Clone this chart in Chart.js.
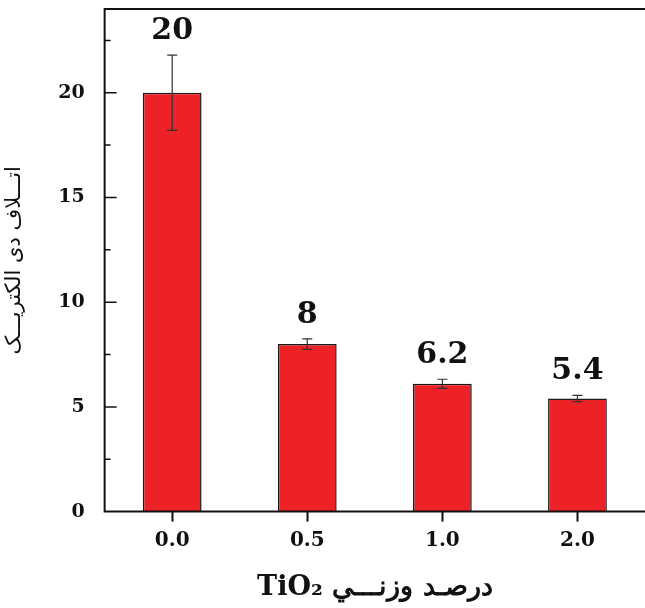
<!DOCTYPE html>
<html lang="fa">
<head>
    <meta charset="UTF-8">
    <title>Dielectric loss vs TiO2</title>
    <script src="https://cdn.jsdelivr.net/npm/chart.js"></script>
    <style>
        body {
            margin: 0;
            padding: 0;
            background-color: #fff;
        }
        .chart-box {
            width: 645px;
            height: 608px;
        }
    </style>
</head>
<body>
    <div class="chart-box">
        <canvas id="chart"></canvas>
    </div>

    <script>
        // data
        const categories = ['0.0', '0.5', '1.0', '2.0'];
        const lossValues = [20, 8, 6.1, 5.4];
        const lossErrors = [1.8, 0.25, 0.22, 0.15];
        const valueLabels = ['20', '8', '6.2', '5.4'];
        const yTicks = [0, 5, 10, 15, 20];

        const serif = "'DejaVu Serif', 'Liberation Serif', serif";

        // frame, inward ticks, error bars and value labels
        const extras = {
            id: 'extras',
            afterDatasetsDraw(chart) {
                const ctx = chart.ctx;
                const area = chart.chartArea;
                const y = chart.scales.y;
                const meta = chart.getDatasetMeta(0);
                ctx.save();

                // error bars
                ctx.strokeStyle = '#333';
                ctx.lineWidth = 1.2;
                meta.data.forEach((bar, i) => {
                    const top = y.getPixelForValue(lossValues[i] + lossErrors[i]);
                    const bot = y.getPixelForValue(lossValues[i] - lossErrors[i]);
                    ctx.beginPath();
                    ctx.moveTo(bar.x, top);
                    ctx.lineTo(bar.x, bot);
                    ctx.moveTo(bar.x - 5, top);
                    ctx.lineTo(bar.x + 5, top);
                    ctx.moveTo(bar.x - 5, bot);
                    ctx.lineTo(bar.x + 5, bot);
                    ctx.stroke();
                });

                // value labels
                ctx.fillStyle = '#111';
                ctx.font = 'bold 30px ' + serif;
                ctx.textAlign = 'center';
                ctx.textBaseline = 'alphabetic';
                meta.data.forEach((bar, i) => {
                    const top = y.getPixelForValue(lossValues[i] + lossErrors[i]);
                    ctx.fillText(valueLabels[i], bar.x, top - 16);
                });

                // axes frame (left, bottom, top)
                ctx.strokeStyle = '#111';
                ctx.lineWidth = 2;
                ctx.beginPath();
                ctx.moveTo(area.left, area.top);
                ctx.lineTo(area.left, area.bottom);
                ctx.moveTo(area.left - 1, area.bottom);
                ctx.lineTo(area.right, area.bottom);
                ctx.moveTo(area.left - 1, area.top);
                ctx.lineTo(area.right, area.top);
                ctx.stroke();

                // inward y ticks, major every 5 and minor every 2.5
                ctx.lineWidth = 1.5;
                ctx.beginPath();
                for (let v = 2.5; v < y.max; v += 2.5) {
                    const py = y.getPixelForValue(v);
                    const len = (v % 5 === 0) ? 12 : 6;
                    ctx.moveTo(area.left, py);
                    ctx.lineTo(area.left + len, py);
                }
                ctx.stroke();
                ctx.restore();
            }
        };

        new Chart(document.getElementById('chart'), {
            type: 'bar',
            data: {
                labels: categories,
                datasets: [{
                    data: lossValues,
                    backgroundColor: '#ec2227',
                    borderColor: '#1a1a1a',
                    borderWidth: 1.5,
                    barPercentage: 0.435,
                    categoryPercentage: 1
                }]
            },
            options: {
                responsive: true,
                maintainAspectRatio: false,
                animation: false,
                layout: {
                    padding: { top: 9, right: 0, left: 2, bottom: 4 }
                },
                plugins: {
                    legend: { display: false },
                    tooltip: { enabled: false }
                },
                scales: {
                    x: {
                        border: { display: false },
                        grid: {
                            display: true,
                            drawOnChartArea: false,
                            offset: false,
                            tickLength: 10,
                            tickWidth: 2,
                            tickColor: '#111'
                        },
                        ticks: {
                            color: '#111',
                            padding: 7,
                            font: { family: serif, weight: 'bold', size: 20 }
                        },
                        title: {
                            display: true,
                            text: 'TiO₂ درصـد وزنـــي',
                            color: '#111',
                            padding: { top: 12, bottom: 0 },
                            font: { family: serif, weight: 'bold', size: 27 }
                        }
                    },
                    y: {
                        min: 0,
                        max: 24,
                        border: { display: false },
                        grid: { display: false },
                        afterBuildTicks(scale) {
                            scale.ticks = yTicks.map(v => ({ value: v }));
                        },
                        afterFit(scale) {
                            scale.paddingTop = 0;
                        },
                        ticks: {
                            color: '#111',
                            padding: 12,
                            font: { family: serif, weight: 'bold', size: 19 }
                        },
                        title: {
                            display: true,
                            text: 'اتـــلاف دی الکتریـــک',
                            color: '#111',
                            padding: { top: 0, bottom: 19 },
                            font: { family: "'DejaVu Sans', sans-serif", weight: 'normal', size: 21 }
                        }
                    }
                }
            },
            plugins: [extras]
        });
    </script>
</body>
</html>
